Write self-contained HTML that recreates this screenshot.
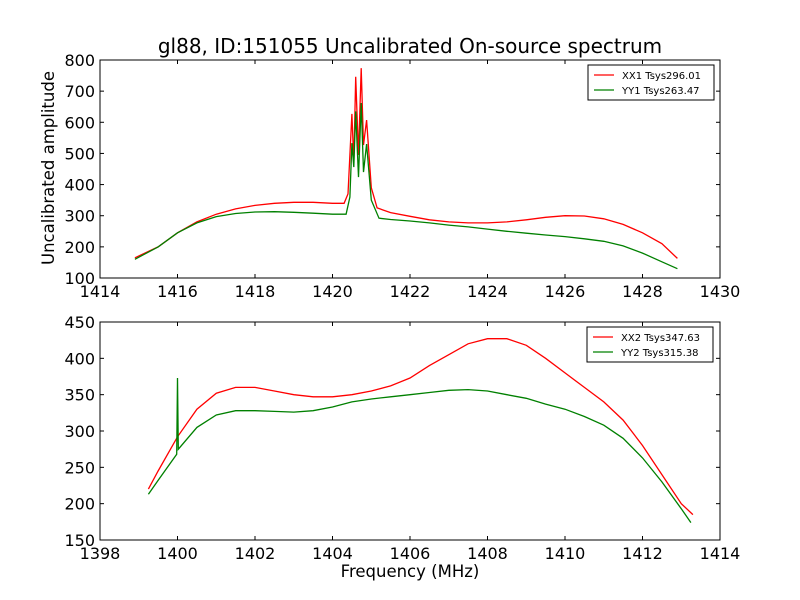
<!DOCTYPE html>
<html><head><meta charset="utf-8"><style>
body{margin:0;background:#fff;}
svg{display:block;font-family:"DejaVu Sans","Liberation Sans",sans-serif;}
</style></head><body>
<svg id="c" width="800" height="600"></svg>
<script>
const topXTicks=[1414,1416,1418,1420,1422,1424,1426,1428,1430];
const topYTicks=[100,200,300,400,500,600,700,800];
const botXTicks=[1398,1400,1402,1404,1406,1408,1410,1412,1414];
const botYTicks=[150,200,250,300,350,400,450];
const topFreq=[1414.9,1415.5,1416,1416.5,1417,1417.5,1418,1418.5,1419,1419.5,1420,1420.3,1420.4,1420.5,1420.55,1420.6,1420.67,1420.74,1420.8,1420.88,1421,1421.15,1421.5,1422,1422.5,1423,1423.5,1424,1424.5,1425,1425.5,1426,1426.5,1427,1427.5,1428,1428.5,1428.9];
const topXX=[165,200,245,280,305,322,333,340,343,343,340,340,370,627,470,746,495,774,527,607,390,325,310,298,287,280,277,277,280,287,295,300,299,290,272,245,210,163];
const topFreqG=[1414.9,1415.5,1416,1416.5,1417,1417.5,1418,1418.5,1419,1419.5,1420,1420.35,1420.45,1420.5,1420.55,1420.6,1420.67,1420.74,1420.8,1420.88,1421,1421.2,1421.5,1422,1422.5,1423,1423.5,1424,1424.5,1425,1425.5,1426,1426.5,1427,1427.5,1428,1428.5,1428.9];
const topYY=[160,200,245,277,297,307,312,313,311,308,305,305,360,533,456,635,424,662,440,530,350,292,288,283,277,270,264,257,250,244,238,233,226,218,203,180,152,130];
const botFreq=[1399.25,1399.5,1400,1400.5,1401,1401.5,1402,1402.5,1403,1403.5,1404,1404.5,1405,1405.5,1406,1406.5,1407,1407.5,1408,1408.5,1409,1409.5,1410,1410.5,1411,1411.5,1412,1412.5,1413,1413.3];
const botXX=[220,245,292,330,352,360,360,355,350,347,347,350,355,362,373,390,405,420,427,427,418,400,380,360,340,315,280,240,200,185];
const botFreqG=[1399.25,1399.5,1399.98,1400,1400.02,1400.5,1401,1401.5,1402,1402.5,1403,1403.5,1404,1404.5,1405,1405.5,1406,1406.5,1407,1407.5,1408,1408.5,1409,1409.5,1410,1410.5,1411,1411.5,1412,1412.5,1413,1413.25];
const botYY=[213,232,268,373,275,305,322,328,328,327,326,328,333,340,344,347,350,353,356,357,355,350,345,337,330,320,308,290,263,230,193,174];
const NS="http://www.w3.org/2000/svg";
const svg=document.getElementById('c');
function mk(t,a,p){const e=document.createElementNS(NS,t);for(const k in a)e.setAttribute(k,a[k]);(p||svg).appendChild(e);return e;}
function panel(o){
 const g=mk('g',{});
 
 
 const L=100,R=720,T=o.T,B=o.B;
 const sx=v=>L+(v-o.x0)/(o.x1-o.x0)*(R-L);
 const sy=v=>B-(v-o.y0)/(o.y1-o.y0)*(B-T);
 o.series.forEach(s=>{
  const d=s.f.map((f,i)=>(i?'L':'M')+sx(f).toFixed(1)+','+sy(s.v[i]).toFixed(1)).join('');
  const p=mk('path',{d:d,fill:'none',stroke:s.c,'stroke-width':1.3},g);
  
  
 });
 const fr=mk('rect',{x:L,y:T,width:R-L,height:B-T,fill:'none',stroke:'#000','stroke-width':1},g);
 
 
 o.xt.forEach(v=>{const x=sx(v);
  mk('line',{x1:x,x2:x,y1:B,y2:B-4,stroke:'#000'},g);mk('line',{x1:x,x2:x,y1:T,y2:T+4,stroke:'#000'},g);
  const t=mk('text',{x:x,y:B+19,'font-size':16,'text-anchor':'middle'},g);t.textContent=v;
  
  });
 o.yt.forEach(v=>{const y=sy(v);
  mk('line',{x1:L,x2:L+4,y1:y,y2:y,stroke:'#000'},g);mk('line',{x1:R,x2:R-4,y1:y,y2:y,stroke:'#000'},g);
  const t=mk('text',{x:L-5,y:y+6,'font-size':16,'text-anchor':'end'},g);t.textContent=v;
  
  });
 const lg=mk('g',{},g);
 
 
 mk('rect',{x:o.lx,y:o.ly,width:126,height:35,fill:'#fff',stroke:'#000'},lg);
 o.series.forEach((s,i)=>{const y=o.ly+10+i*15;
  mk('line',{x1:o.lx+6,x2:o.lx+26,y1:y,y2:y,stroke:s.c,'stroke-width':1.3},lg);
  const t=mk('text',{x:o.lx+34,y:y+4,'font-size':10},lg);t.textContent=s.l;
  
  });
}
panel({name:'top-panel',T:60,B:278,x0:1414,x1:1430,y0:100,y1:800,xt:topXTicks,yt:topYTicks,lx:588,ly:65,
 series:[{f:topFreq,v:topXX,c:'#ff0000',n:'xx1-line',l:'XX1 Tsys296.01'},{f:topFreqG,v:topYY,c:'#008000',n:'yy1-line',l:'YY1 Tsys263.47'}]});
panel({name:'bottom-panel',T:322,B:540,x0:1398,x1:1414,y0:150,y1:450,xt:botXTicks,yt:botYTicks,lx:587,ly:327,
 series:[{f:botFreq,v:botXX,c:'#ff0000',n:'xx2-line',l:'XX2 Tsys347.63'},{f:botFreqG,v:botYY,c:'#008000',n:'yy2-line',l:'YY2 Tsys315.38'}]});
let t=mk('text',{x:410,y:53,'font-size':20,'text-anchor':'middle'});t.textContent='gl88, ID:151055 Uncalibrated On-source spectrum';


t=mk('text',{x:0,y:0,'font-size':16.5,'text-anchor':'middle',transform:'translate(54,168) rotate(-90)'});t.textContent='Uncalibrated amplitude';


t=mk('text',{x:410,y:577,'font-size':16.5,'text-anchor':'middle'});t.textContent='Frequency (MHz)';


</script>
</body></html>
